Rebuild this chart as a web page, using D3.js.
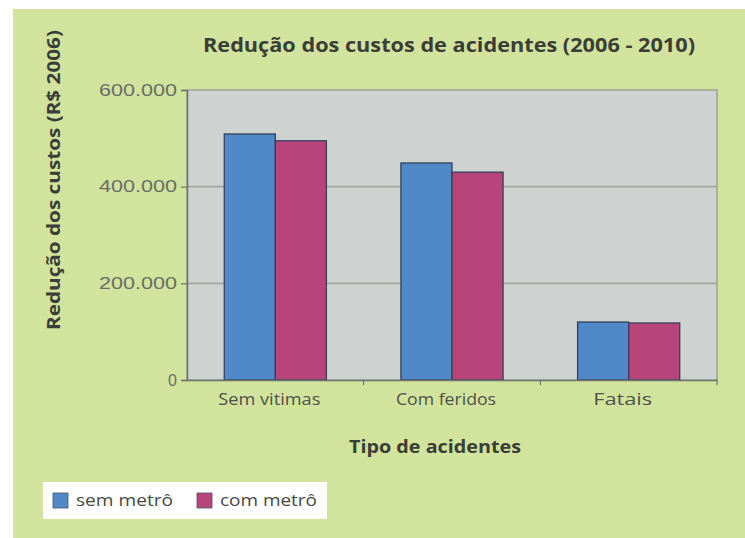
<!DOCTYPE html>
<html>
<head>
<meta charset="utf-8">
<script src="https://cdn.jsdelivr.net/npm/d3@7"></script>
<style>
  html, body { margin: 0; padding: 0; background: #ffffff; }
  svg { display: block; }
</style>
</head>
<body>
<script>
const categories = ["Sem vitimas", "Com feridos", "Fatais"];
const seriesNames = ["sem metrô", "com metrô"];
const semMetro = [509000, 449000, 120000];
const comMetro = [495000, 430000, 118000];
const yTickValues = [0, 200000, 400000, 600000];
const yTickLabels = ["0", "200.000", "400.000", "600.000"];
const seriesColors = ["#5188c7", "#b8457a"];

const W = 745, H = 538;
const svg = d3.select("body").append("svg").attr("width", W).attr("height", H);

// backgrounds
svg.append("rect").attr("x", 0).attr("y", 0).attr("width", W).attr("height", H).attr("fill", "#ffffff");
svg.append("rect").attr("x", 13).attr("y", 9).attr("width", W - 13).attr("height", H - 9).attr("fill", "#d1e39d");

const plot = { left: 187, right: 717, top: 90, bottom: 380 };

const x0 = d3.scaleBand().domain(categories).range([plot.left, plot.right]).paddingInner(0).paddingOuter(0);
const x1 = d3.scaleBand().domain(seriesNames).range([0, x0.bandwidth()]).paddingInner(0).paddingOuter(0.73);
const y = d3.scaleLinear().domain([0, 600000]).range([plot.bottom, plot.top]);

// plot area
svg.append("rect")
  .attr("x", plot.left).attr("y", plot.top)
  .attr("width", plot.right - plot.left).attr("height", plot.bottom - plot.top)
  .attr("fill", "#ced2d1").attr("stroke", "#9ea493").attr("stroke-width", 1.5);

// gridlines
svg.append("g").selectAll("line")
  .data(yTickValues.filter(v => v > 0 && v < 600000))
  .join("line")
  .attr("x1", plot.left).attr("x2", plot.right)
  .attr("y1", d => y(d)).attr("y2", d => y(d))
  .attr("stroke", "#a2a6a1").attr("stroke-width", 1.6);

// bars
const data = categories.map((c, i) => ({ cat: c, vals: [semMetro[i], comMetro[i]] }));
svg.append("g").selectAll("g")
  .data(data)
  .join("g")
  .attr("transform", d => `translate(${x0(d.cat)},0)`)
  .selectAll("rect")
  .data(d => d.vals.map((v, j) => ({ name: seriesNames[j], v, j })))
  .join("rect")
  .attr("x", d => x1(d.name))
  .attr("y", d => y(d.v))
  .attr("width", x1.bandwidth())
  .attr("height", d => y(0) - y(d.v))
  .attr("fill", d => seriesColors[d.j])
  .attr("stroke", "#34405a").attr("stroke-width", 1.3);

// y axis
const yAxis = d3.axisLeft(y).tickValues(yTickValues)
  .tickFormat((d, i) => yTickLabels[i]).tickSize(6).tickPadding(4);
const yg = svg.append("g").attr("transform", `translate(${plot.left},0)`).call(yAxis);
yg.select(".domain").attr("stroke", "#6e736c").attr("stroke-width", 1.5);
yg.selectAll(".tick line").attr("stroke", "#6e736c").attr("stroke-width", 1.2);
yg.selectAll(".tick text")
  .attr("fill", "#6a6d67")
  .attr("font-family", "'Liberation Sans', Arial, sans-serif")
  .attr("font-size", 16)
  .each(function(d, i) {
    const t = yTickLabels[i];
    if (t.length > 1) d3.select(this).attr("textLength", 78).attr("lengthAdjust", "spacingAndGlyphs");
  });

// x axis
const xAxis = d3.axisBottom(x0).tickSize(0).tickPadding(14);
const xg = svg.append("g").attr("transform", `translate(0,${plot.bottom})`).call(xAxis);
xg.select(".domain").attr("stroke", "#6e736c").attr("stroke-width", 1.5);
const catLabelWidth = { "Sem vitimas": 102, "Com feridos": 100, "Fatais": 59 };
xg.selectAll(".tick text")
  .attr("fill", "#4d5249")
  .attr("dx", -6)
  .attr("font-family", "'Open Sans', sans-serif")
  .attr("font-size", 16)
  .attr("textLength", d => catLabelWidth[d]).attr("lengthAdjust", "spacingAndGlyphs");
// category separator ticks
svg.append("g").selectAll("line")
  .data(categories.slice(1).concat(["__end"]))
  .join("line")
  .attr("x1", d => d === "__end" ? plot.right : x0(d))
  .attr("x2", d => d === "__end" ? plot.right : x0(d))
  .attr("y1", plot.bottom).attr("y2", plot.bottom + 5)
  .attr("stroke", "#6e736c").attr("stroke-width", 1.2);

// titles
svg.append("text")
  .attr("x", 449).attr("y", 52)
  .attr("text-anchor", "middle")
  .attr("font-family", "'Open Sans', sans-serif")
  .attr("font-weight", "bold").attr("font-size", 19)
  .attr("fill", "#3b3e37")
  .attr("textLength", 492).attr("lengthAdjust", "spacingAndGlyphs")
  .text("Redução dos custos de acidentes (2006 - 2010)");

svg.append("text")
  .attr("transform", "translate(60,180) rotate(-90)")
  .attr("text-anchor", "middle")
  .attr("font-family", "'Open Sans', sans-serif")
  .attr("font-weight", "bold").attr("font-size", 18)
  .attr("fill", "#3b3e37")
  .attr("textLength", 300).attr("lengthAdjust", "spacingAndGlyphs")
  .text("Redução dos custos (R$ 2006)");

svg.append("text")
  .attr("x", 435).attr("y", 453)
  .attr("text-anchor", "middle")
  .attr("font-family", "'Open Sans', sans-serif")
  .attr("font-weight", "bold").attr("font-size", 17)
  .attr("fill", "#3b3e37")
  .attr("textLength", 172).attr("lengthAdjust", "spacingAndGlyphs")
  .text("Tipo de acidentes");

// legend
const lg = svg.append("g");
lg.append("rect").attr("x", 43).attr("y", 482).attr("width", 284).attr("height", 37).attr("fill", "#ffffff");
const legendX = [53, 197];
seriesNames.forEach((n, i) => {
  lg.append("rect").attr("x", legendX[i]).attr("y", 493).attr("width", 15).attr("height", 15)
    .attr("fill", seriesColors[i]).attr("stroke", "#4a5470").attr("stroke-width", 0.8);
  lg.append("text").attr("x", legendX[i] + 23).attr("y", 506)
    .attr("font-family", "'Open Sans', sans-serif").attr("font-size", 17)
    .attr("fill", "#454a42")
    .attr("textLength", 97).attr("lengthAdjust", "spacingAndGlyphs")
    .text(n);
});
</script>
</body>
</html>
